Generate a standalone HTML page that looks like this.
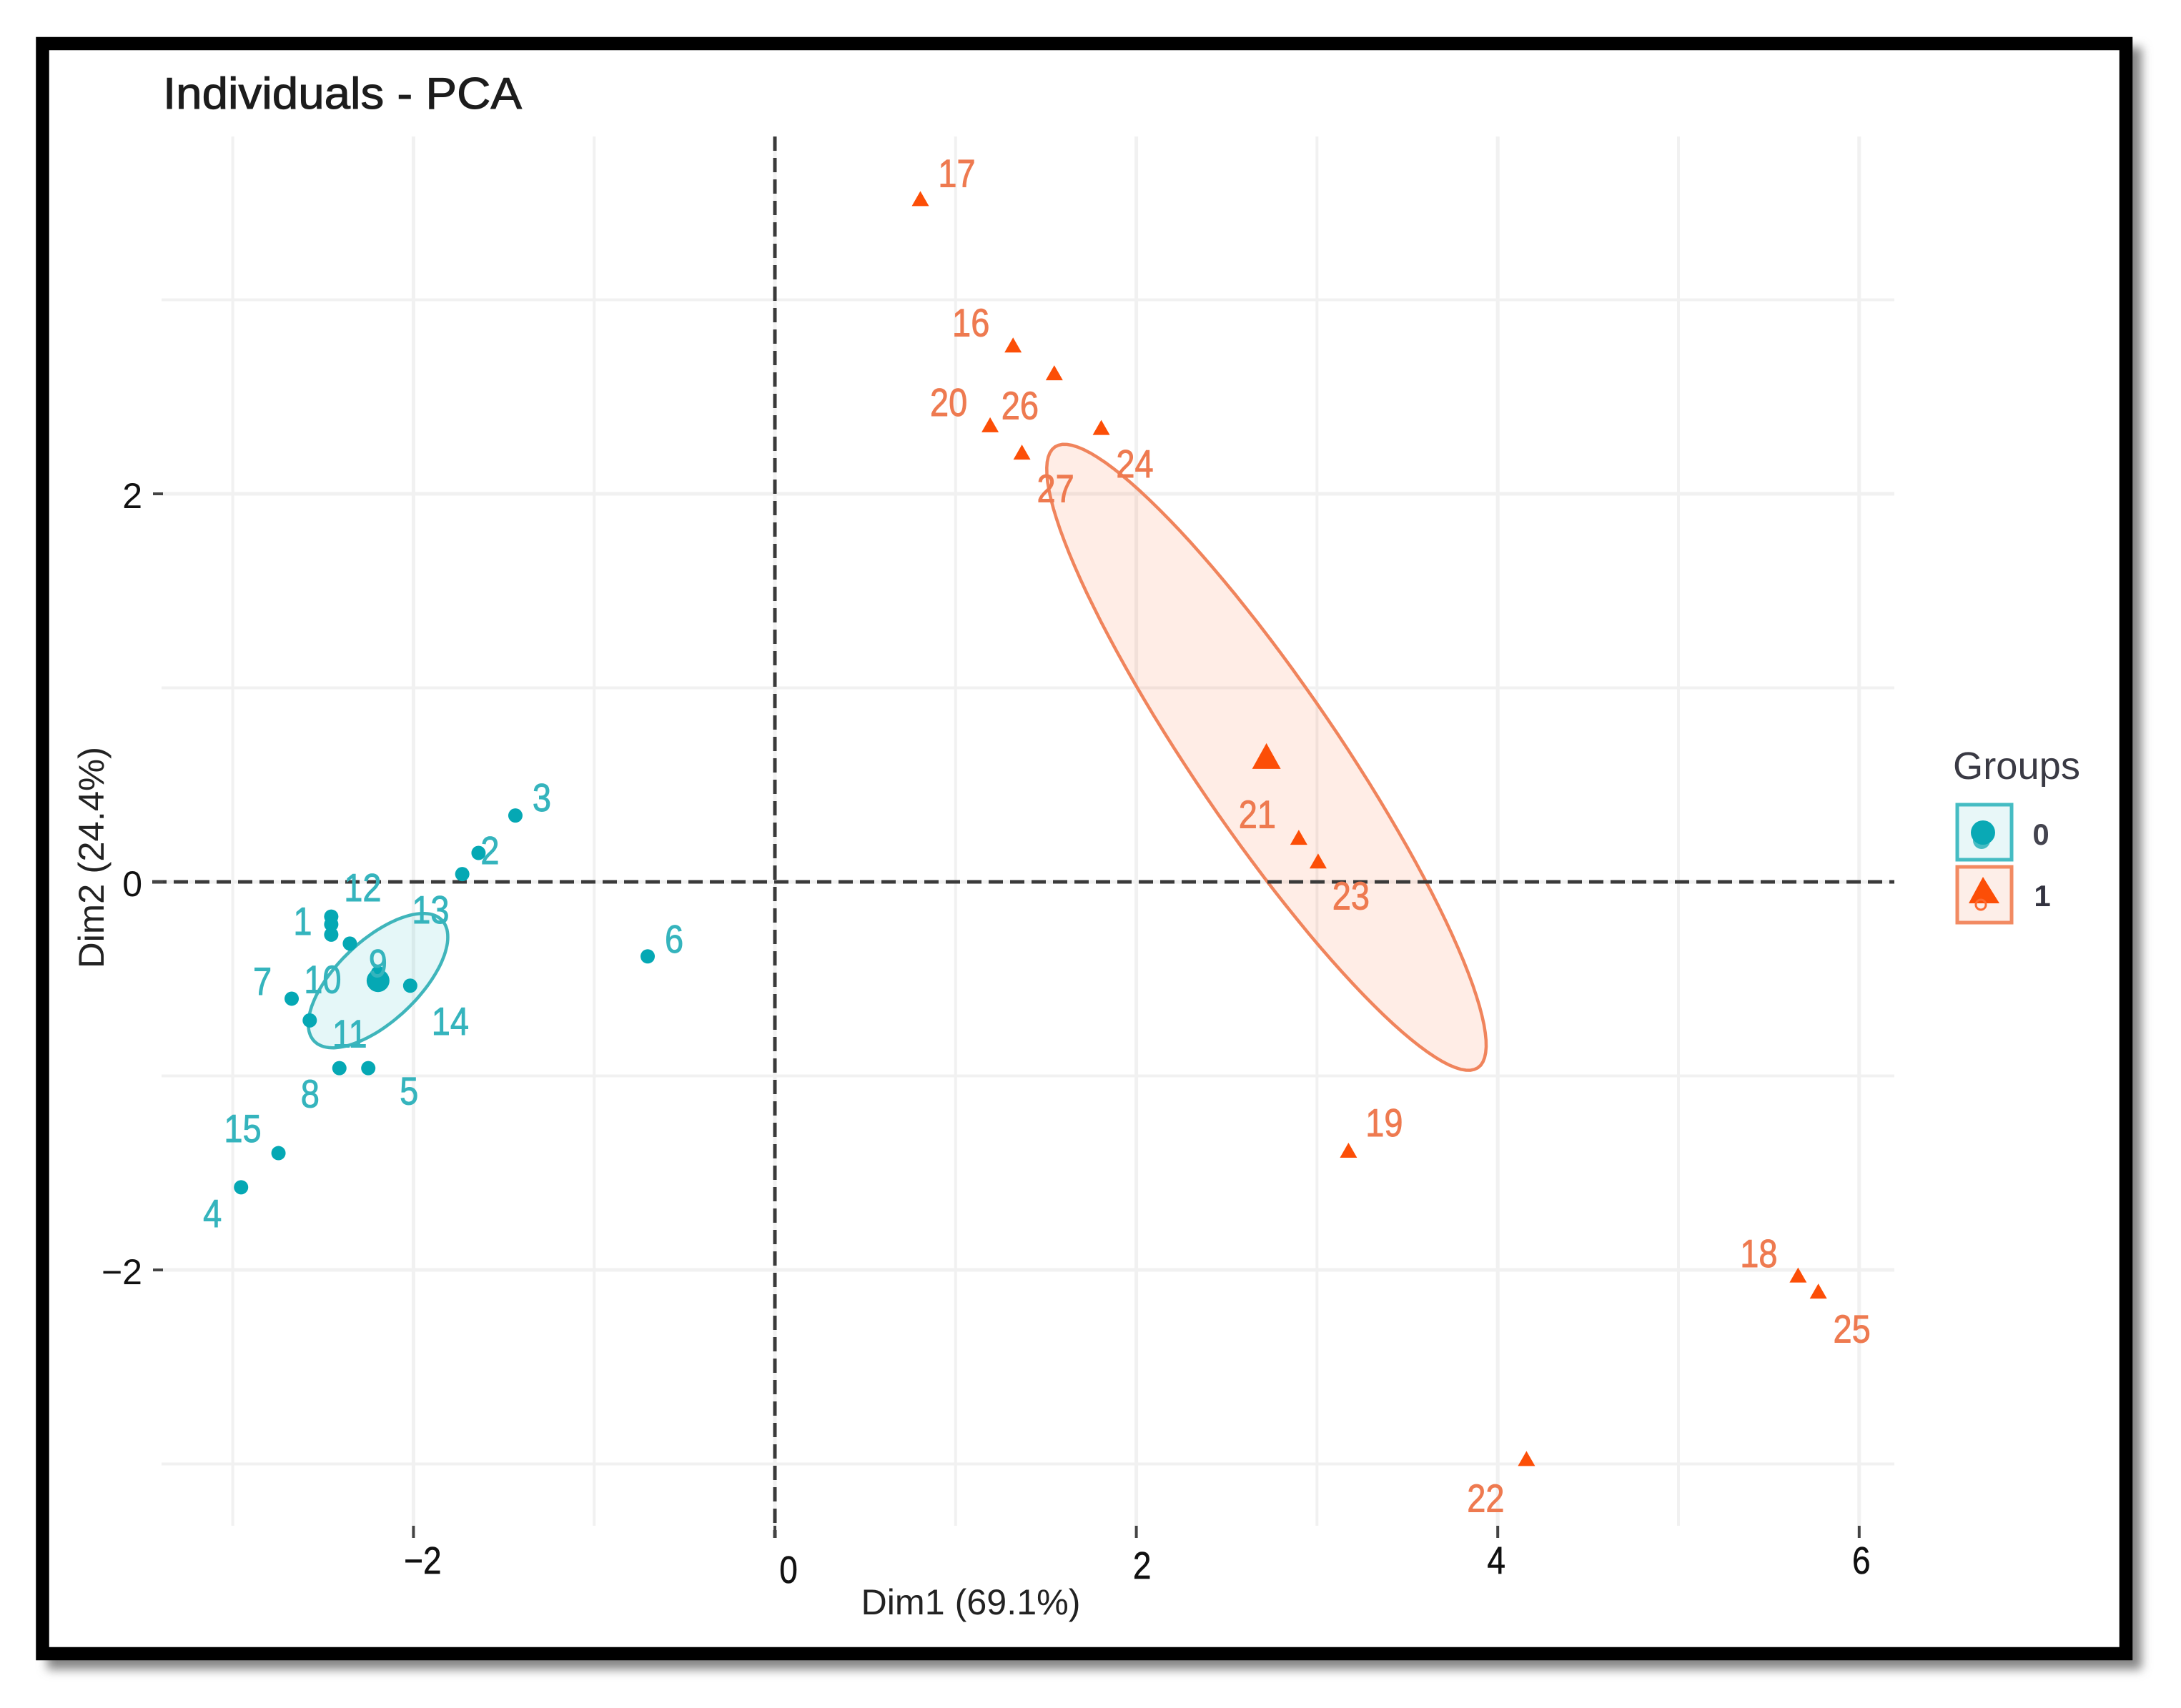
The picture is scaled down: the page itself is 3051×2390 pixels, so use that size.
<!DOCTYPE html>
<html lang="en">
<head>
<meta charset="utf-8">
<title>Individuals - PCA</title>
<style>
html,body{margin:0;padding:0;background:#fff;}
svg{display:block;font-family:"Liberation Sans",sans-serif;}
</style>
</head>
<body>
<svg id="chart" xmlns="http://www.w3.org/2000/svg" width="3051" height="2390" viewBox="0 0 3051 2390">
  <defs>
    <filter id="soft-shadow" x="-5%" y="-5%" width="110%" height="110%"><feGaussianBlur stdDeviation="7"/></filter>
  </defs>
  <rect x="66" y="66" width="2930" height="2270" fill="#858585" filter="url(#soft-shadow)"/>
  <rect x="59.5" y="61" width="2914.5" height="2253" fill="#fff" stroke="#000" stroke-width="18.5"/>
  <text x="228" y="152" font-size="62" fill="#1c1c1c" stroke="#1c1c1c" stroke-width="1" textLength="502" lengthAdjust="spacingAndGlyphs">Individuals - PCA</text>
  <g id="grid"></g>
  <g id="ellipses"></g>
  <g id="refs"></g>
  <g id="ticks"></g>
  <g id="marks"></g>
  <g id="labels"></g>
  <text x="1358" y="2259" font-size="50" fill="#222" text-anchor="middle" textLength="307" lengthAdjust="spacingAndGlyphs">Dim1 (69.1%)</text>
  <text transform="translate(145,1200) rotate(-90)" font-size="50" fill="#222" text-anchor="middle" textLength="310" lengthAdjust="spacingAndGlyphs">Dim2 (24.4%)</text>
  <g>
    <text x="2732" y="1090" font-size="54" fill="#3a3a44" textLength="178" lengthAdjust="spacingAndGlyphs">Groups</text>
    <g>
      <rect x="2738" y="1126" width="76" height="77" fill="#e8f7f8" stroke="#45bcc3" stroke-width="5"/>
      <circle cx="2772" cy="1176" r="12" fill="#45bcc3"/>
      <circle cx="2774" cy="1165" r="17" fill="#0aa9b5"/>
      <text x="2855" y="1182" font-size="42" font-weight="bold" fill="#44444f" text-anchor="middle">0</text>
    </g>
    <g>
      <rect x="2738" y="1213" width="76" height="78" fill="#fdeee8" stroke="#f28a62" stroke-width="5"/>
      <polygon points="2774,1227 2797,1264 2754,1264" fill="#fc4e07"/>
      <circle cx="2771" cy="1266" r="7" fill="none" stroke="#fc6a30" stroke-width="3"/>
      <text x="2857" y="1268" font-size="42" font-weight="bold" fill="#333340" text-anchor="middle">1</text>
    </g>
  </g>
</svg>
<script>
// ---- chart data (PCA coordinates) ----
const group0Labels = ['3','2','','12','1','10','13','9','14','7','11','8','5','15','4','6'];
const group0Dim1 = [-1.436,-1.64,-1.73,-2.455,-2.455,-2.455,-2.352,-2.196,-2.018,-2.674,-2.574,-2.41,-2.25,-2.747,-2.954,-0.704];
const group0Dim2 = [0.342,0.149,0.04,-0.179,-0.219,-0.272,-0.318,-0.47,-0.535,-0.602,-0.714,-0.96,-0.96,-1.398,-1.574,-0.384];
const group1Labels = ['17','16','26','20','27','24','21','23','19','18','25','22'];
const group1Dim1 = [0.805,1.318,1.546,1.191,1.367,1.806,2.899,3.006,3.174,5.662,5.774,4.159];
const group1Dim2 = [3.518,2.763,2.62,2.352,2.211,2.338,0.226,0.104,-1.387,-2.03,-2.113,-2.976];
const group0Centroid = [-2.196,-0.509];
const group1Centroid = [2.72,0.642];
const group0EllipseMajor = [0.353,0.312];
const group0EllipseMinor = [0.156,-0.15];
const group1EllipseMajor = [1.17,-1.6];
const group1EllipseMinor = [0.331,0.207];
const xTickValues = [-2,0,2,4,6];
const yTickValues = [2,0,-2];
const xGridValues = [-3,-2,-1,0,1,2,3,4,5,6];
const yGridValues = [3,2,1,0,-1,-2,-3];

// ---- layout (not data) ----
const X0 = 1084, XU = 252.8, Y0 = 1234, YU = 271.5;
const PLOT = {left:226, right:2650, top:191, bottom:2135};
const TEAL = '#05a8b4', ORANGE = '#fc4e07';
const labelNudge = {
  '3':[37,-26],'2':[16,-4],'12':[44,-41],'1':[-40,-5],'10':[-12,62],'13':[113,-48],'9':[0,-14],
  '14':[56,49],'7':[-41,-25],'11':[56,18],'8':[-41,35],'5':[57,31],'15':[-50,-35],'4':[-40,36],'6':[37,-25],
  '17':[51,-37],'16':[-59,-33],'26':[-48,44],'20':[-58,-33],'27':[47,49],'24':[47,49],'21':[-58,-34],
  '23':[46,47],'19':[50,-40],'18':[-55,-32],'25':[47,51],'22':[-57,54]
};
const xTickLabelShift = {'-2':[13,2],'0':[19,15],'2':[8,9],'4':[-2,2],'6':[3,2]};

const NS = 'http://www.w3.org/2000/svg';
function xScale(v){ return X0 + XU * v; }
function yScale(v){ return Y0 - YU * v; }
function make(tag, attrs, parent){
  const el = document.createElementNS(NS, tag);
  for (const k in attrs) el.setAttribute(k, attrs[k]);
  parent.appendChild(el);
  return el;
}
const gridG = document.getElementById('grid');
const ellG = document.getElementById('ellipses');
const refG = document.getElementById('refs');
const tickG = document.getElementById('ticks');
const markG = document.getElementById('marks');
const labelG = document.getElementById('labels');

xGridValues.forEach(function(v){
  const major = v % 2 === 0;
  const el = make('line', {x1:xScale(v), x2:xScale(v), y1:PLOT.top, y2:PLOT.bottom, stroke:'#f1f1f1', 'stroke-width':major?5:4}, gridG);
  
  
});
yGridValues.forEach(function(v){
  const major = v % 2 === 0;
  const el = make('line', {x1:PLOT.left, x2:PLOT.right, y1:yScale(v), y2:yScale(v), stroke:'#f1f1f1', 'stroke-width':major?5:4}, gridG);
  
  
});

function ellipsePath(c, a, b){
  let d = '';
  for (let i = 0; i < 120; i++){
    const t = i / 120 * Math.PI * 2;
    const dx = c[0] + a[0] * Math.cos(t) + b[0] * Math.sin(t);
    const dy = c[1] + a[1] * Math.cos(t) + b[1] * Math.sin(t);
    d += (i ? 'L' : 'M') + xScale(dx).toFixed(1) + ' ' + yScale(dy).toFixed(1);
  }
  return d + 'Z';
}
const ell0 = make('path', {d:ellipsePath(group0Centroid, group0EllipseMajor, group0EllipseMinor), fill:'#00afbb', 'fill-opacity':0.1, stroke:'#3fb5bb', 'stroke-width':4.5}, ellG);


const ell1 = make('path', {d:ellipsePath(group1Centroid, group1EllipseMajor, group1EllipseMinor), fill:ORANGE, 'fill-opacity':0.1, stroke:'#f0845c', 'stroke-width':4.5}, ellG);



const hRef = make('line', {x1:213, x2:PLOT.right, y1:yScale(0), y2:yScale(0), stroke:'#3a3a3a', 'stroke-width':5, 'stroke-dasharray':'20 10'}, refG);


const vRef = make('line', {x1:xScale(0), x2:xScale(0), y1:PLOT.top, y2:2152, stroke:'#3a3a3a', 'stroke-width':5, 'stroke-dasharray':'20 10'}, refG);



function stretchedText(parent, str, cx, cy, size, fill, weight){
  const t = make('text', {transform:'translate(' + cx + ',' + cy + ') scale(1,1.16)', 'font-size':size, fill:fill, stroke:fill, 'stroke-width':weight, 'text-anchor':'middle', y:size * 0.36}, parent);
  t.textContent = str;
  return t;
}

xTickValues.forEach(function(v){
  const x = xScale(v);
  const tick = make('line', {x1:x, x2:x, y1:2135, y2:2152, stroke:'#444', 'stroke-width':4}, tickG);
  
  
  const s = xTickLabelShift[String(v)];
  const lab = stretchedText(tickG, String(v).replace('-', '\u2212'), x + s[0], 2181 + s[1], 46, '#111', 0.5);
  
  
});
yTickValues.forEach(function(v){
  const y = yScale(v);
  const tick = make('line', {x1:214, x2:228, y1:y, y2:y, stroke:'#444', 'stroke-width':4}, tickG);
  
  
  const lab = make('text', {x:199, y:y + 20, 'font-size':50, fill:'#111', 'text-anchor':'end'}, tickG);
  lab.textContent = String(v).replace('-', '\u2212');
  
  
});

group0Dim1.forEach(function(v, i){
  const p = make('circle', {cx:xScale(v), cy:yScale(group0Dim2[i]), r:10, fill:TEAL}, markG);
  
  
});
function triangle(cx, cy, w, h, fill, parent){
  return make('polygon', {points:cx + ',' + (cy - h * 0.55) + ' ' + (cx + w / 2) + ',' + (cy + h * 0.45) + ' ' + (cx - w / 2) + ',' + (cy + h * 0.45), fill:fill}, parent);
}
group1Dim1.forEach(function(v, i){
  const p = triangle(xScale(v), yScale(group1Dim2[i]), 24, 21, ORANGE, markG);
  
  
});
const c0 = make('circle', {cx:xScale(group0Centroid[0]), cy:yScale(group0Centroid[1]), r:16, fill:TEAL}, markG);


const c1 = triangle(xScale(group1Centroid[0]), yScale(group1Centroid[1]), 40, 36, ORANGE, markG);



group0Labels.forEach(function(s, i){
  if (!s) return;
  const n = labelNudge[s];
  const t = stretchedText(labelG, s, xScale(group0Dim1[i]) + n[0], yScale(group0Dim2[i]) + n[1], 47, '#35b4bd', 0.8);
  
  
});
group1Labels.forEach(function(s, i){
  const n = labelNudge[s];
  const t = stretchedText(labelG, s, xScale(group1Dim1[i]) + n[0], yScale(group1Dim2[i]) + n[1], 47, '#ee7a50', 0.8);
  
  
});
</script>
</body>
</html>
